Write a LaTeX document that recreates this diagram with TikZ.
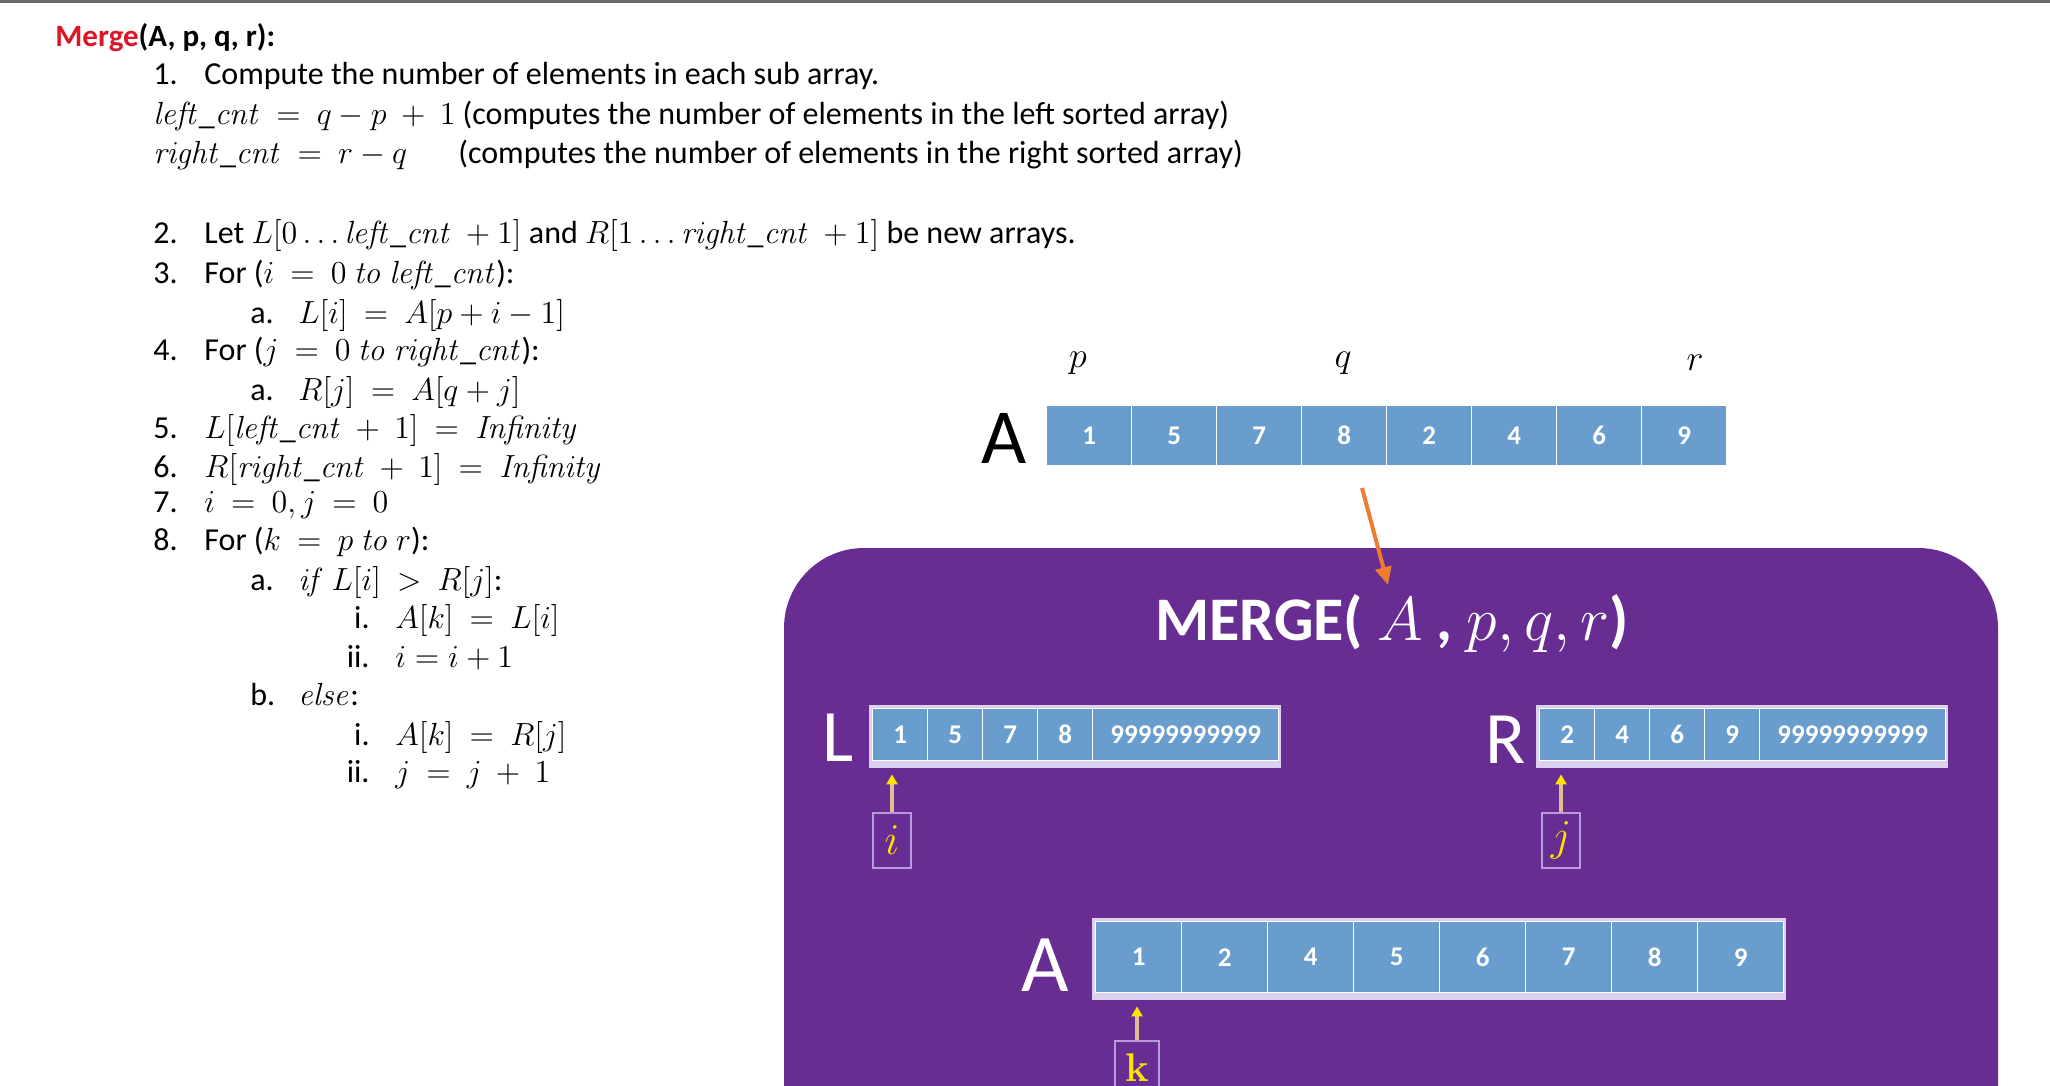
\documentclass[tikz,border=0pt]{standalone}
\usepackage{fix-cm}
\usepackage[no-math]{fontspec}
\setmainfont{Carlito}
\usetikzlibrary{arrows.meta,calc}
\definecolor{purp}{RGB}{103,45,146}
\definecolor{cellblue}{RGB}{104,157,206}
\definecolor{band}{RGB}{220,208,238}
\definecolor{lav}{RGB}{185,155,220}
\definecolor{tanc}{RGB}{228,188,150}
\definecolor{ylw}{RGB}{255,228,0}
\definecolor{orng}{RGB}{237,125,49}
\definecolor{mred}{RGB}{222,20,40}
\definecolor{topgray}{RGB}{105,105,105}
\begin{document}
\begin{tikzpicture}[x=0.5pt,y=-0.5pt,
  txt/.style={anchor=base west, inner sep=0, font=\fontsize{16}{18}\selectfont},
  lab/.style={anchor=base west, inner sep=0, font=\fontsize{16}{18}\selectfont},
  rlab/.style={anchor=base east, inner sep=0, font=\fontsize{16}{18}\selectfont},
  cellbase/.style={draw=white, line width=0.7pt, fill=cellblue, text=white, anchor=north west, inner sep=0,
     font=\fontsize{13.5}{13.5}\selectfont\bfseries},
  cellA/.style={cellbase, minimum width=42.5pt, minimum height=30pt},
  cellS/.style={cellbase, minimum width=27.5pt, minimum height=26pt},
  cellW/.style={cellbase, minimum width=93pt, minimum height=26pt},
  cellB/.style={cellbase, minimum width=43pt, minimum height=35.5pt},
  biglab/.style={inner sep=0, font=\fontsize{39}{39}\selectfont},
  pbox/.style={draw=lav, line width=1pt, minimum width=19pt, minimum height=27.5pt, inner sep=0, text=ylw,
     font=\fontsize{22}{22}\selectfont},
  ptr/.style={draw=tanc, line width=2.2pt, -{Triangle[length=5pt,width=5.5pt,color=ylw]}},
  oarr/.style={draw=orng, line width=2pt, -{Triangle[length=9pt,width=8pt]}},
  idx/.style={inner sep=0, font=\fontsize{18}{18}\selectfont}
]
\useasboundingbox (0,0) rectangle (2050,1086);
\clip (0,0) rectangle (2050,1086);
\fill[white] (0,0) rectangle (2050,1086);
\draw[topgray, line width=1.5pt] (0,1.5) -- (2050,1.5);

% ---------- pseudo code ----------
\node[txt, font=\fontsize{15.5}{18}\selectfont] (t0) at (55,47) {\bfseries\textcolor{mred}{Merge}(A, p, q, r):};
\node[lab] (n1) at (153,85) {1.};
\node[txt] (l1) at (204,85) {Compute the number of elements in each sub array.};
\node[txt] (l1a) at (153,125) {$\mathit{left\_cnt}\ =\ q - p\ +\ 1$ (computes the number of elements in the left sorted array)};
\node[txt] (l1b) at (153,163) {$\mathit{right\_cnt}\ =\ r - q$};
\node[txt] (l1c) at (458,163) {(computes the number of elements in the right sorted array)};
\node[lab] (n2) at (153,243) {2.};
\node[txt] (l2) at (204,243) {Let $L[0\ldots\mathit{left\_cnt}\ +1]$ and $R[1\ldots\mathit{right\_cnt}\ +1]$ be new arrays.};
\node[lab] (n3) at (153,283) {3.};
\node[txt] (l3) at (204,283) {For ($i\ =\ 0\ \mathit{to}\ \mathit{left\_cnt}$):};
\node[lab] (n3a) at (250,323) {a.};
\node[txt] (l3a) at (298,323) {$L[i]\ =\ A[p+i-1]$};
\node[lab] (n4) at (153,360) {4.};
\node[txt] (l4) at (204,360) {For ($j\ =\ 0\ \mathit{to}\ \mathit{right\_cnt}$):};
\node[lab] (n4a) at (250,400) {a.};
\node[txt] (l4a) at (298,400) {$R[j]\ =\ A[q+j]$};
\node[lab] (n5) at (153,438) {5.};
\node[txt] (l5) at (204,438) {$L[\mathit{left\_cnt}\ +\ 1]\ =\ \mathit{Infinity}$};
\node[lab] (n6) at (153,477) {6.};
\node[txt] (l6) at (204,477) {$R[\mathit{right\_cnt}\ +\ 1]\ =\ \mathit{Infinity}$};
\node[lab] (n7) at (153,512) {7.};
\node[txt] (l7) at (204,512) {$i\ =\ 0, j\ =\ 0$};
\node[lab] (n8) at (153,550) {8.};
\node[txt] (l8) at (204,550) {For ($k\ =\ p\ \mathit{to}\ r$):};
\node[lab] (n8a) at (250,590) {a.};
\node[txt] (l8a) at (298,590) {$\mathit{if}\ L[i]\ >\ R[j]$:};
\node[rlab] (n8ai) at (370,628) {i.};
\node[txt] (l8ai) at (395,628) {$A[k]\ =\ L[i]$};
\node[rlab] (n8aii) at (370,667) {ii.};
\node[txt] (l8aii) at (395,667) {$i = i + 1$};
\node[lab] (n8b) at (250,705) {b.};
\node[txt] (l8b) at (298,705) {$\mathit{else}$:};
\node[rlab] (n8bi) at (370,745) {i.};
\node[txt] (l8bi) at (395,745) {$A[k]\ =\ R[j]$};
\node[rlab] (n8bii) at (370,782) {ii.};
\node[txt] (l8bii) at (395,782) {$j\ =\ j\ +\ 1$};

% ---------- top array ----------
\node[biglab] (Atop) at (1004,438) {A};
\foreach \v [count=\k] in {1,5,7,8,2,4,6,9}
  \node[cellA] (A\k) at ({1046+85*(\k-1)},405) {\v};
\node[idx] (pl) at (1078,363) {$p$};
\node[idx] (ql) at (1343,363) {$q$};
\node[idx] (rl) at (1695,363) {$r$};

% ---------- purple panel ----------
\fill[purp, rounded corners=40pt] (784,548) rectangle (1998,1250);
\coordinate (os) at (1362,488);
\coordinate (oe) at (1388,585);
\draw[oarr] (os) -- (oe);
\node[anchor=base, inner sep=0, text=white, font=\bfseries\fontsize{31}{31}\selectfont] (mt) at (1392,640)
  {MERGE( $A$ , $p, q, r$)};

% L array
\node[biglab, text=white, font=\fontsize{37}{37}\selectfont] (Llab) at (838,738) {L};
\fill[band] (869,705) rectangle (1281,768);
\foreach \v [count=\k] in {1,5,7,8}
  \node[cellS] (L\k) at ({872+55*(\k-1)},708) {\v};
\node[cellW] (L5) at (1092,708) {99999999999};

% R array
\node[biglab, text=white, font=\fontsize{37}{37}\selectfont] (Rlab) at (1506,740) {R};
\fill[band] (1536,705) rectangle (1948,768);
\foreach \v [count=\k] in {2,4,6,9}
  \node[cellS] (R\k) at ({1539+55*(\k-1)},708) {\v};
\node[cellW] (R5) at (1759,708) {99999999999};

% pointers i, j
\node[pbox] (ib) at (892,840) {$i$};
\node[pbox] (jb) at (1561,840) {$j$};
\draw[ptr] (ib.north) -- ($(ib.north |- L1.south)+(0,13)$);
\draw[ptr] (jb.north) -- ($(jb.north |- R1.south)+(0,13)$);

% bottom A array
\node[biglab, text=white, font=\fontsize{41}{41}\selectfont] (Abot) at (1045,965) {A};
\fill[band] (1092,918) rectangle (1786,1000);
\foreach \v [count=\k] in {1,2,4,5,6,7,8,9}
  \node[cellB] (B\k) at ({1095+86*(\k-1)},921) {\v};
\node[pbox, minimum width=22pt, font=\bfseries\fontsize{20}{20}\selectfont] (kb) at (1137,1068) {$\mathbf{k}$};
\draw[ptr] (kb.north) -- ($(kb.north |- B1.south)+(0,13)$);
\end{tikzpicture}
\end{document}
